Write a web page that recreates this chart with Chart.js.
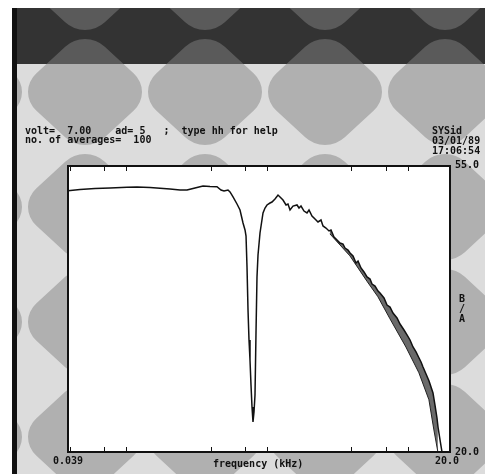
<!DOCTYPE html>
<html>
<head>
<meta charset="utf-8">
<script src="https://cdn.jsdelivr.net/npm/chart.js@4/dist/chart.umd.min.js"></script>
<style>
  html, body { margin: 0; padding: 0; background: #fff; }
  #wrap { position: relative; width: 485px; height: 474px; overflow: hidden; }
  #bg, #chart { position: absolute; left: 0; top: 0; }
  .t { position: absolute; font: bold 10px "DejaVu Sans Mono", monospace; line-height: 10px; white-space: pre; color: #111; }
</style>
</head>
<body>
<div id="wrap">
  <canvas id="bg" width="485" height="474"></canvas>
  <canvas id="chart" width="485" height="474"></canvas>
  <div class="t" style="left:25px;top:126px">volt=  7.00    ad= 5   ;  type hh for help</div>
  <div class="t" style="left:25px;top:135px">no. of averages=  100</div>
  <div class="t" style="left:432px;top:126px">SYSid</div>
  <div class="t" style="left:432px;top:136px">03/01/89</div>
  <div class="t" style="left:432px;top:146px">17:06:54</div>
  <div class="t" style="left:455px;top:160px">55.0</div>
  <div class="t" style="left:455px;top:447px">20.0</div>
  <div class="t" style="left:459px;top:294px">B</div>
  <div class="t" style="left:459px;top:304px">/</div>
  <div class="t" style="left:459px;top:314px">A</div>
  <div class="t" style="left:53px;top:456px">0.039</div>
  <div class="t" style="left:213px;top:459px">frequency (kHz)</div>
  <div class="t" style="left:435px;top:456px">20.0</div>
</div>
<script>
// frequency response B/A (dB) vs frequency (kHz)
const freqKHz = [
  0.039, 0.04745, 0.06062, 0.07745, 0.1023, 0.1204, 0.1489, 0.1753, 0.2064, 0.2430,
  0.2724, 0.3105, 0.3538, 0.3968, 0.4446, 0.4748, 0.4987, 0.5323, 0.5500, 0.5778,
  0.6166, 0.6476, 0.6803, 0.7029, 0.7145, 0.7261, 0.7381, 0.7502, 0.7624, 0.7750,
  0.7878, 0.8007, 0.8139, 0.8273, 0.8409, 0.8547, 0.8690, 0.8978, 0.9430, 0.9743,
  1.0065, 1.057, 1.092, 1.147, 1.205, 1.245, 1.307, 1.373, 1.418, 1.466,
  1.539, 1.643, 1.698, 1.754, 1.842, 1.934, 1.999, 2.099, 2.205, 2.315,
  2.431, 2.512, 2.638, 2.771, 2.863, 3.007, 3.158, 3.317, 3.483, 3.599,
  3.780, 3.906, 4.102, 4.308, 4.451, 4.673, 4.909, 5.157, 5.416, 5.595,
  5.875, 6.171, 6.376, 6.806, 7.149, 7.506, 7.883, 8.417, 8.840, 9.435,
  9.909, 10.41, 10.93, 11.48, 12.06, 12.46, 12.87, 13.52, 14.20, 14.67,
  15.15, 15.65, 16.17, 16.44, 16.99, 17.55
];
const responseDB = [
  51.98, 52.12, 52.25, 52.31, 52.39, 52.43, 52.37, 52.27, 52.19, 52.06,
  52.06, 52.31, 52.55, 52.49, 52.46, 52.06, 51.94, 52.06, 51.82, 51.21,
  50.35, 49.62, 48.02, 47.17, 46.43, 42.64, 37.38, 33.71, 31.26, 28.20,
  25.51, 23.67, 24.89, 26.97, 34.56, 41.42, 44.11, 46.80, 49.25, 49.86,
  50.23, 50.47, 50.59, 50.96, 51.45, 51.21, 50.84, 50.23, 50.35, 49.62,
  50.10, 50.23, 49.86, 50.10, 49.49, 49.25, 49.62, 48.88, 48.51, 48.15,
  48.39, 47.66, 47.41, 47.05, 47.17, 46.31, 45.94, 45.58, 45.45, 44.96,
  44.72, 44.35, 43.99, 43.13, 43.37, 42.52, 42.03, 41.42, 41.17, 40.56,
  40.31, 39.70, 39.46, 38.85, 37.99, 37.74, 37.01, 36.40, 35.66, 34.93,
  34.32, 33.71, 32.85, 32.24, 31.50, 31.01, 30.40, 29.54, 28.69, 27.95,
  27.22, 25.75, 24.16, 23.06, 21.47, 20.00
];
// lower edge of the noisy band at high frequency
const bandFreqKHz = [2.81, 3.90, 5.15, 6.16, 7.50, 9.73, 12.03, 14.17, 15.37, 16.41];
const bandDB = [46.7, 44.0, 40.9, 39.0, 36.3, 32.85, 29.7, 26.4, 22.7, 20.0];

const freqTicks = [0.04, 0.05, 0.06, 0.07, 0.08, 0.09, 0.1, 0.2, 0.3, 0.4, 0.5, 0.6, 0.7, 0.8, 0.9,
  1, 2, 3, 4, 5, 6, 7, 8, 9, 10, 20];
const freqMin = 0.039, freqMax = 20.0;
const dbMin = 20.0, dbMax = 55.0;

// background: screen with rounded diamond pattern
const bg = document.getElementById('bg').getContext('2d');
bg.fillStyle = '#fff';
bg.fillRect(0, 0, 485, 474);

function diamond(cx, cy, hw, hh, r) {
  const s = 2 * ((hw - r) / Math.SQRT2 + r);
  bg.save();
  bg.translate(cx, cy);
  bg.scale(1, hh / hw);
  bg.rotate(Math.PI / 4);
  bg.beginPath();
  bg.roundRect(-s / 2, -s / 2, s, s, r);
  bg.fill();
  bg.restore();
}

bg.save();
bg.beginPath(); bg.rect(12, 64, 473, 410); bg.clip();
bg.fillStyle = '#dcdcdc';
bg.fillRect(12, 64, 473, 410);
bg.fillStyle = '#b0b0b0';
for (let j = 0; j < 4; j++) {
  for (let i = -1; i < 5; i++) diamond(85 + 120 * i, 92 + 115 * j, 57, 53, 28);
}
bg.restore();

bg.save();
bg.beginPath(); bg.rect(12, 8, 473, 56); bg.clip();
bg.fillStyle = '#333';
bg.fillRect(12, 8, 473, 56);
bg.fillStyle = '#5a5a5a';
for (let i = -1; i < 5; i++) { diamond(85 + 120 * i, -23, 57, 53, 28); diamond(85 + 120 * i, 92, 57, 53, 28); }
bg.restore();

bg.fillStyle = '#111';
bg.fillRect(12, 8, 5, 466);

// chart frame: white plot area, border and inward log ticks
const frame = {
  id: 'frame',
  beforeDraw(chart) {
    const a = chart.chartArea, c = chart.ctx;
    c.save();
    c.fillStyle = '#fff';
    c.fillRect(a.left, a.top, a.right - a.left, a.bottom - a.top);
    c.restore();
  },
  afterDatasetsDraw(chart) {
    const a = chart.chartArea, c = chart.ctx, x = chart.scales.x;
    c.save();
    c.strokeStyle = '#111';
    c.lineWidth = 2;
    c.strokeRect(a.left, a.top, a.right - a.left, a.bottom - a.top);
    c.lineWidth = 1;
    c.beginPath();
    x.ticks.forEach(t => {
      const px = Math.round(x.getPixelForValue(t.value)) + 0.5;
      c.moveTo(px, a.top); c.lineTo(px, a.top + 5);
      c.moveTo(px, a.bottom); c.lineTo(px, a.bottom - 5);
    });
    c.stroke();
    c.restore();
  }
};

new Chart(document.getElementById('chart'), {
  type: 'line',
  data: {
    datasets: [{
      data: freqKHz.map((f, i) => ({ x: f, y: responseDB[i] })),
      borderColor: '#111',
      borderWidth: 1.5,
      fill: false
    }, {
      data: bandFreqKHz.map((f, i) => ({ x: f, y: bandDB[i] })),
      borderColor: '#222',
      borderWidth: 1,
      backgroundColor: '#6a6a6a',
      fill: '-1'
    }]
  },
  options: {
    responsive: false,
    animation: false,
    parsing: false,
    layout: { padding: { left: 68, top: 166, right: 35, bottom: 22 } },
    elements: { point: { radius: 0 }, line: { tension: 0 } },
    plugins: { legend: { display: false }, tooltip: { enabled: false } },
    scales: {
      x: {
        type: 'logarithmic', min: freqMin, max: freqMax, display: false,
        afterBuildTicks: s => { s.ticks = freqTicks.map(v => ({ value: v })); }
      },
      y: { type: 'linear', min: dbMin, max: dbMax, display: false }
    }
  },
  plugins: [frame]
});
</script>
</body>
</html>
